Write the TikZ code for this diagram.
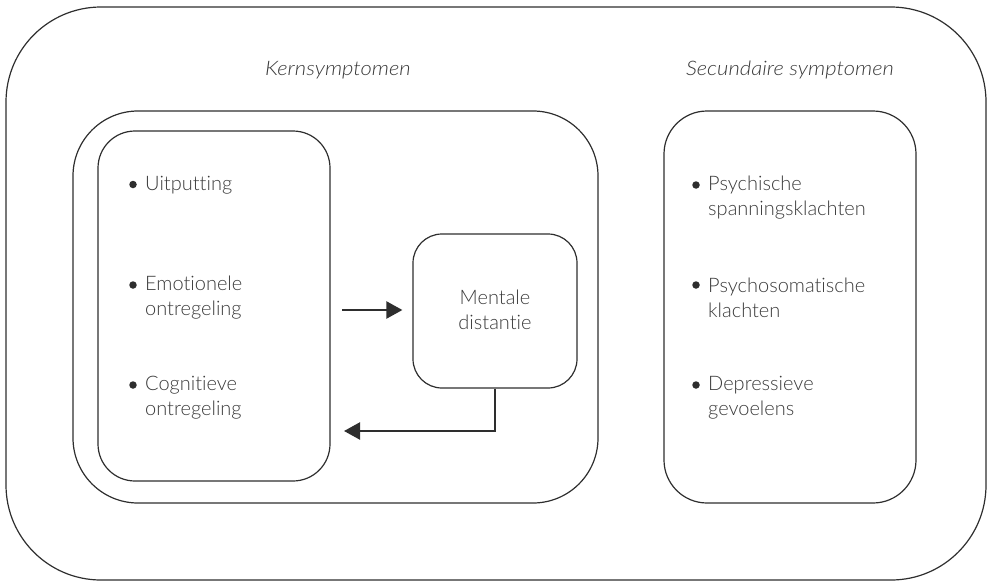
\documentclass[tikz,border=0pt]{standalone}
\usepackage{fontspec}
\setmainfont{Lato Light}[Ligatures=NoCommon,ItalicFont={Lato Light Italic}]
\newfontfamily\titfont{Lato Light Italic}[Ligatures=NoCommon,FakeStretch=1.1]
\usetikzlibrary{arrows.meta,calc}
\definecolor{txt}{HTML}{3A3A3A}
\definecolor{ln}{HTML}{2E2E2E}
\begin{document}
\begin{tikzpicture}[x=1pt,y=-1pt,
  box/.style={draw=ln,line width=1.2pt},
  lbl/.style={text=txt,font=\fontsize{20}{25}\selectfont,inner sep=0pt},
  ttl/.style={text=txt,font=\fontsize{20}{25}\selectfont\titfont,inner sep=0pt},
  bulletdot/.style={circle,fill=ln,draw=none,inner sep=0pt,minimum size=7.5pt},
  conn/.style={draw=ln,line width=2.3pt,-{Triangle[length=16pt,width=17pt]}}]
\useasboundingbox (0,0) rectangle (987,581);
\draw[box,rounded corners=95pt] (6,7) rectangle (986,580);
\draw[box,rounded corners=65pt] (73,111) rectangle (598,503);
\draw[box,rounded corners=37pt] (98,131) rectangle (330,481);
\draw[box,rounded corners=43pt] (664,111) rectangle (916,503);
\node[box,rounded corners=29pt,minimum width=164pt,minimum height=154pt,inner sep=0pt] (mental) at (495,311) {};
\node[lbl,align=center] (mtxt) at (495,310) {Mentale\\distantie};
\node[ttl] (kern) at (338,70) {Kernsymptomen};
\node[ttl] (secu) at (790,70) {Secundaire symptomen};
\node[lbl,anchor=west,align=left] (a1) at (145,185) {Uitputting};
\node[lbl,anchor=west,align=left] (a2) at (145,298) {Emotionele\\ontregeling};
\node[lbl,anchor=west,align=left] (a3) at (145,398) {Cognitieve\\ontregeling};
\node[lbl,anchor=west,align=left] (b1) at (708,198) {Psychische\\spanningsklachten};
\node[lbl,anchor=west,align=left] (b2) at (708,298) {Psychosomatische\\klachten};
\node[lbl,anchor=west,align=left] (b3) at (708,398) {Depressieve\\gevoelens};
\node[bulletdot] (da1) at (133,184.5) {};
\node[bulletdot] (da2) at (133,285) {};
\node[bulletdot] (da3) at (133,385) {};
\node[bulletdot] (db1) at (696,185) {};
\node[bulletdot] (db2) at (696,285) {};
\node[bulletdot] (db3) at (696,385) {};
\coordinate (s1) at (342,310);
\coordinate (e2) at (344,431);
\draw[conn,shorten >=10pt] (s1) -- (mental.west|-s1);
\draw[conn] (mental.south) |- (e2);
\end{tikzpicture}
\end{document}
